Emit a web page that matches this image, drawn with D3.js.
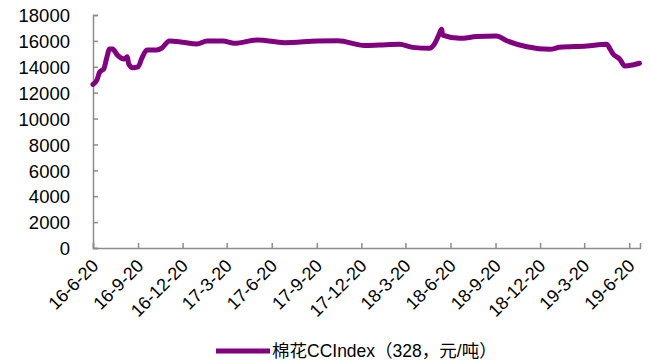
<!DOCTYPE html>
<html><head><meta charset="utf-8">
<script src="https://cdn.jsdelivr.net/npm/d3@7"></script>
<style>
body{margin:0;background:#fff;}
svg{display:block;font-family:"Liberation Sans",Arial,"Noto Sans CJK SC",sans-serif;}
</style></head>
<body><svg id="c" width="651" height="363"></svg>
<script>
const dates = ["2016-06-20","2016-06-28","2016-07-04","2016-07-12","2016-07-18","2016-07-24","2016-07-30","2016-08-09","2016-08-23","2016-08-29","2016-09-01","2016-09-09","2016-09-20","2016-09-28","2016-10-08","2016-10-28","2016-11-07","2016-11-23","2016-12-20","2017-01-18","2017-02-08","2017-03-12","2017-04-05","2017-05-22","2017-07-16","2017-09-22","2017-11-02","2017-12-27","2018-01-26","2018-03-08","2018-04-04","2018-05-08","2018-05-19","2018-05-27","2018-06-02","2018-06-04","2018-07-09","2018-08-12","2018-09-22","2018-10-13","2018-11-23","2019-01-09","2019-01-29","2019-03-25","2019-05-05","2019-05-11","2019-05-17","2019-06-01","2019-06-11","2019-06-27","2019-07-11"];
const values = [12640,12980,13620,13830,14680,15370,15370,14900,14600,14780,14210,13930,14000,14680,15300,15300,15430,15990,15890,15760,15990,15990,15810,16070,15860,15990,16010,15640,15680,15740,15500,15430,15810,16450,16890,16450,16200,16330,16380,16010,15550,15350,15500,15600,15740,15430,15040,14580,14060,14140,14270];
const tickLabels = ["16-6-20","16-9-20","16-12-20","17-3-20","17-6-20","17-9-20","17-12-20","18-3-20","18-6-20","18-9-20","18-12-20","19-3-20","19-6-20"];
const yTicks = [0,2000,4000,6000,8000,10000,12000,14000,16000,18000];
const seriesName = "棉花CCIndex（328，元/吨）";

const parse = d3.timeParse("%Y-%m-%d");
const parseTick = d3.timeParse("%y-%m-%d");
const data = dates.map((d,i)=>({date:parse(d), value:values[i]}));
const svg = d3.select("#c");
const x = d3.scaleTime().domain([parse("2016-06-20"), parse("2019-07-12")]).range([93,640]);
const y = d3.scaleLinear().domain([0,18000]).range([248,15]);
const axisColor = "#8c8c8c";

// y axis
const ya = svg.append("g").attr("transform","translate(93,0)")
  .call(d3.axisRight(y).tickValues(yTicks).tickSize(5).tickFormat(d3.format("d")));
ya.select(".domain").attr("stroke",axisColor).attr("stroke-width",1.5);
ya.selectAll(".tick line").attr("stroke",axisColor).attr("stroke-width",1.5);
ya.selectAll(".tick text").attr("x",-23).attr("dy","0.36em").attr("text-anchor","end").attr("font-size",18.5).attr("fill","#000")
  .attr("font-family",'"Liberation Sans",Arial,sans-serif');

// x axis
const xa = svg.append("g").attr("transform","translate(0,248)")
  .call(d3.axisTop(x).tickValues(tickLabels.map(t=>parseTick(t))).tickSize(5)
     .tickFormat((d,i)=>tickLabels[i]));
xa.select(".domain").attr("stroke",axisColor).attr("stroke-width",1.5);
xa.selectAll(".tick line").attr("stroke",axisColor).attr("stroke-width",1.5);
xa.selectAll(".tick text").attr("y",0).attr("dy",0)
  .attr("transform","translate(6,19) rotate(-45)")
  .attr("text-anchor","end").attr("font-size",18).attr("fill","#000")
  .attr("font-family",'"Liberation Sans",Arial,sans-serif');

// line
svg.append("path").datum(data)
  .attr("fill","none").attr("stroke","#800080").attr("stroke-width",5)
  .attr("stroke-linejoin","round").attr("stroke-linecap","round")
  .attr("d", d3.line().curve(d3.curveMonotoneX).x(d=>x(d.date)).y(d=>y(d.value)));

// legend
const lg = svg.append("g");
lg.append("line").attr("x1",216).attr("x2",270).attr("y1",351).attr("y2",351)
  .attr("stroke","#800080").attr("stroke-width",5);
lg.append("text").attr("x",272).attr("y",357).attr("font-size",17.5).attr("fill","#000").text(seriesName);
</script></body></html>
